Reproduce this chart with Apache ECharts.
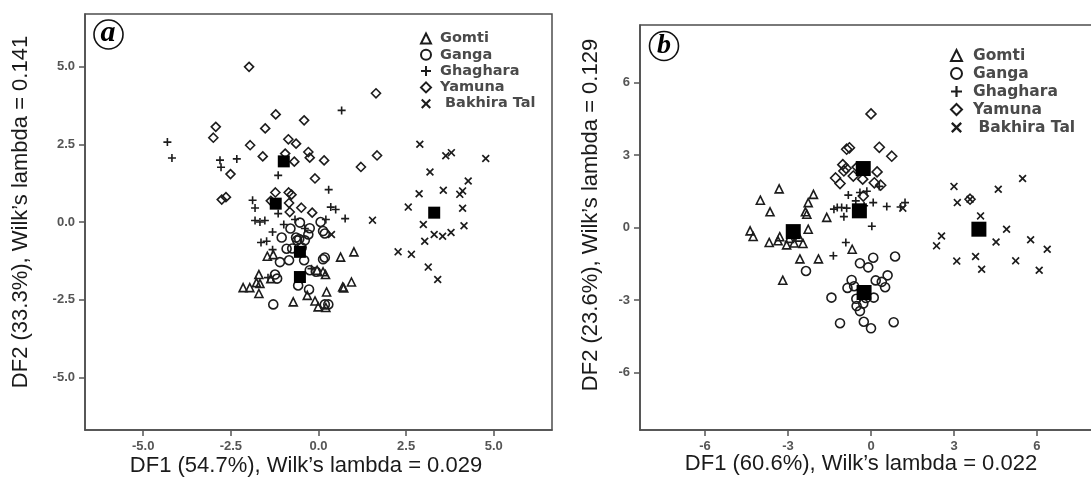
<!DOCTYPE html>
<html>
<head>
<meta charset="utf-8">
<script src="https://cdn.jsdelivr.net/npm/echarts@6/dist/echarts.min.js"></script>
<style>
html,body{margin:0;padding:0;background:#fff;}
#chart{width:1091px;height:479px;}
</style>
</head>
<body>
<div id="chart"></div>
<script>
// ---------- Panel (a) data ----------
const leftGomti = [[-1.46,-1.1],[-1.29,-1.05],[0.63,-1.13],[1.01,-0.96],[-1.7,-1.69],[-1.67,-1.98],[-1.77,-1.95],[-2.15,-2.11],[-1.96,-2.11],[-1.7,-2.3],[-1.36,-1.82],[-0.04,-1.55],[0.13,-1.6],[0.2,-1.69],[0.69,-2.09],[0.72,-2.12],[0.94,-1.93],[-0.72,-2.57],[-0.32,-2.36],[0.23,-2.25],[-0.1,-2.54],[-0.01,-2.73],[0.21,-2.75]];
const leftGanga = [[-0.53,-0.02],[-0.25,-0.2],[-0.29,-0.4],[0.06,0.0],[0.13,-0.29],[0.18,-0.37],[-1.05,-0.5],[-0.8,-0.21],[-0.61,-0.59],[-0.64,-0.5],[-0.39,-0.59],[-0.91,-0.86],[-0.48,-0.82],[-1.1,-1.29],[-0.84,-1.23],[-0.41,-1.23],[0.13,-1.2],[0.18,-1.14],[-0.25,-1.55],[-0.07,-1.6],[-1.24,-1.69],[-1.18,-1.82],[-0.58,-2.04],[-0.27,-2.17],[-1.29,-2.65],[0.18,-2.65],[0.28,-2.65],[-0.55,-0.55],[-0.75,-0.85]];
const leftGhaghara = [[-4.31,2.57],[-4.18,2.06],[-2.81,1.99],[-2.78,1.76],[-2.33,2.03],[0.66,3.59],[-1.15,1.5],[0.29,1.04],[-1.88,0.7],[-1.81,0.45],[-1.15,0.27],[-1.81,0.05],[-1.67,0.0],[-1.53,0.05],[-1.31,-0.32],[-0.99,-0.08],[-0.67,0.08],[-0.39,-0.21],[0.35,0.48],[0.49,0.40],[0.76,0.11],[0.21,0.08],[-1.64,-0.66],[-1.48,-0.62],[-1.31,-0.89],[-1.44,-1.79],[-0.2,-1.5]];
const leftYamuna = [[-1.98,4.99],[1.64,4.14],[-1.22,3.46],[-0.41,3.27],[-2.93,3.06],[-1.52,3.01],[-3.0,2.71],[-1.95,2.47],[-0.86,2.66],[-0.64,2.52],[-0.29,2.25],[-1.59,2.11],[-0.25,2.07],[0.16,1.98],[1.67,2.14],[1.21,1.77],[-0.95,2.2],[-0.69,1.94],[-2.51,1.54],[-0.1,1.4],[-2.76,0.72],[-2.64,0.8],[-1.23,0.95],[-0.85,0.95],[-0.77,0.88],[-0.84,0.61],[-0.49,0.46],[-1.36,0.68],[-0.82,0.32],[-0.18,0.30]];
const leftBakhira = [[2.89,2.5],[3.63,2.13],[3.79,2.23],[4.77,2.04],[3.18,1.61],[4.27,1.32],[2.87,0.91],[3.56,1.02],[4.03,0.89],[4.11,1.0],[2.56,0.48],[4.11,0.44],[2.99,-0.08],[4.15,-0.12],[3.3,-0.4],[3.54,-0.46],[3.78,-0.34],[3.03,-0.62],[2.27,-0.96],[2.65,-1.04],[3.13,-1.45],[3.4,-1.85],[1.54,0.06],[0.37,-0.4]];
const leftCentroids = [[-0.99,1.95],[-1.22,0.59],[-0.53,-0.96],[-0.53,-1.77],[3.3,0.3]];
const leftTicks = [-5, -2.5, 0, 2.5, 5];

// ---------- Panel (b) data ----------
const rightGomti = [[-3.32,1.6],[-4.0,1.13],[-3.65,0.65],[-2.08,1.37],[-2.27,1.03],[-2.37,0.65],[-2.32,0.55],[-1.6,0.42],[-4.37,-0.14],[-4.26,-0.37],[-3.3,-0.38],[-2.27,-0.07],[-3.68,-0.62],[-3.36,-0.55],[-3.05,-0.72],[-2.78,-0.64],[-2.46,-0.66],[-2.57,-1.3],[-1.9,-1.3],[-0.68,-0.9],[-3.19,-2.18],[-2.95,-0.45],[-2.6,-0.4]];
const rightGanga = [[-2.35,-1.8],[0.87,-1.2],[0.08,-1.25],[-0.4,-1.48],[-0.1,-1.65],[-0.7,-2.17],[-0.61,-2.43],[0.17,-2.19],[0.39,-2.25],[0.51,-2.47],[0.6,-1.98],[-1.43,-2.9],[-0.53,-2.95],[-0.18,-2.92],[-0.52,-3.25],[-0.4,-3.46],[-0.28,-3.15],[-1.12,-3.96],[-0.26,-3.9],[0.0,-4.17],[0.82,-3.92],[-0.85,-2.5],[0.1,-2.9]];
const rightGhaghara = [[-0.82,1.34],[-0.4,1.45],[-0.15,1.5],[0.08,1.03],[0.57,0.87],[1.07,0.85],[1.23,1.03],[-1.22,0.83],[-1.06,0.83],[-0.88,0.8],[-1.34,0.76],[-0.98,0.45],[0.03,0.05],[-0.91,-0.62],[-1.36,-1.17],[0.3,1.7],[-0.55,1.1],[-0.25,0.9]];
const rightYamuna = [[0,4.7],[0.3,3.32],[0.75,2.95],[-0.88,3.24],[-0.78,3.3],[-1.02,2.6],[-0.9,2.45],[-1.28,2.05],[-1.12,1.82],[-0.98,2.34],[0.22,2.3],[0.12,1.85],[-0.3,2.0],[-0.64,2.13],[-0.28,1.3],[3.58,1.17],[-0.5,2.5],[0.35,1.75]];
const rightBakhira = [[3.0,1.7],[4.6,1.58],[5.48,2.03],[3.12,1.03],[3.58,1.17],[3.96,0.48],[4.9,-0.07],[2.55,-0.35],[2.37,-0.76],[4.52,-0.6],[5.77,-0.51],[6.37,-0.9],[3.78,-1.2],[3.1,-1.39],[4.0,-1.73],[5.23,-1.38],[6.08,-1.77],[1.15,0.8]];
const rightCentroids = [[-0.28,2.44],[-0.42,0.69],[-2.81,-0.17],[-0.25,-2.69],[3.9,-0.07]];
const rightTicks = [-6, -3, 0, 3, 6];

const groupNames = ['Gomti', 'Ganga', 'Ghaghara', 'Yamuna', 'Bakhira Tal'];

// ---------- styling helpers ----------
const INK = '#1c1c1c';
const PLUS = 'path://M4,0H6V4H10V6H6V10H4V6H0V4H4Z';
const CROSS = 'path://M0,1.5L1.5,0L5,3.5L8.5,0L10,1.5L6.5,5L10,8.5L8.5,10L5,6.5L1.5,10L0,8.5L3.5,5Z';
const hollow = {color: 'rgba(0,0,0,0)', borderColor: INK, borderWidth: 1.6, opacity: 1};
const solid = {color: INK, borderWidth: 0, opacity: 1};

function valAxis(gridIndex, min, max, ticks, decimals) {
  return {
    type: 'value', gridIndex: gridIndex, min: min, max: max,
    splitLine: {show: false},
    axisLine: {show: true, onZero: false, lineStyle: {color: '#4d4d4d', width: 1.5}},
    axisTick: {show: true, length: 6, customValues: ticks, lineStyle: {color: '#555', width: 1.5}},
    axisLabel: {customValues: ticks, formatter: function (v) { return v.toFixed(decimals); },
      margin: 10, color: '#555', fontWeight: 'bold', fontSize: 13, fontFamily: 'Liberation Sans'}
  };
}

function groupSeries(idx, sets, sizes, centroids, cSize) {
  const syms = ['triangle', 'circle', PLUS, 'diamond', CROSS];
  const styles = [hollow, hollow, solid, hollow, solid];
  const out = sets.map(function (d, i) {
    return {
      type: 'scatter', name: groupNames[i], xAxisIndex: idx, yAxisIndex: idx,
      data: d, symbol: syms[i], symbolSize: sizes[i], itemStyle: styles[i],
      emphasis: {disabled: true}, z: 2
    };
  });
  out.push({
    type: 'scatter', name: 'Group centroid', xAxisIndex: idx, yAxisIndex: idx,
    data: centroids, symbol: 'rect', symbolSize: cSize,
    itemStyle: {color: '#000', opacity: 1}, emphasis: {disabled: true}, z: 5
  });
  return out;
}

const chart = echarts.init(document.getElementById('chart'), null, {renderer: 'canvas'});

const titleFont = {fontSize: 22, fontFamily: 'Liberation Sans', fill: '#1a1a1a'};

chart.setOption({
  animation: false,
  backgroundColor: '#fff',
  grid: [
    {left: 85, top: 14, width: 467, height: 416, show: true, borderColor: '#4d4d4d', borderWidth: 1.5, outerBoundsMode: 'none', containLabel: false},
    {left: 640, top: 25, width: 462, height: 405, show: true, borderColor: '#4d4d4d', borderWidth: 1.5, outerBoundsMode: 'none', containLabel: false}
  ],
  xAxis: [valAxis(0, -6.66, 6.66, leftTicks, 1), valAxis(1, -8.35, 8.35, rightTicks, 0)],
  yAxis: [valAxis(0, -6.69, 6.69, leftTicks, 1), valAxis(1, -8.38, 8.38, rightTicks, 0)],
  legend: [
    {orient: 'vertical', left: 415, top: 26, itemWidth: 10, itemHeight: 10, itemGap: 1.3,
     data: groupNames, selectedMode: false,
     formatter: function (n) { return n === 'Bakhira Tal' ? ' ' + n : n; },
     textStyle: {fontFamily: 'DejaVu Sans', fontWeight: 'bold', fontSize: 14.5, lineHeight: 14, color: '#4a4a4a', padding: [0, 0, 0, 4]}},
    {orient: 'vertical', left: 945, top: 42.5, itemWidth: 11, itemHeight: 11, itemGap: 2.0,
     data: groupNames, selectedMode: false,
     formatter: function (n) { return n === 'Bakhira Tal' ? ' ' + n : n; },
     textStyle: {fontFamily: 'DejaVu Sans', fontWeight: 'bold', fontSize: 15.5, lineHeight: 15, color: '#4a4a4a', padding: [0, 0, 0, 6]}}
  ],
  series: [].concat(
    groupSeries(0, [leftGomti, leftGanga, leftGhaghara, leftYamuna, leftBakhira], [8, 9, 8, 9, 8], leftCentroids, 12),
    groupSeries(1, [rightGomti, rightGanga, rightGhaghara, rightYamuna, rightBakhira], [8, 9, 8, 10, 8], rightCentroids, 15)
  ),
  graphic: [
    {type: 'text', x: 306, y: 466, style: Object.assign({text: 'DF1 (54.7%), Wilk\u2019s lambda = 0.029', align: 'center', verticalAlign: 'middle'}, titleFont)},
    {type: 'text', x: 861, y: 464, style: Object.assign({text: 'DF1 (60.6%), Wilk\u2019s lambda = 0.022', align: 'center', verticalAlign: 'middle'}, titleFont)},
    {type: 'text', x: 21, y: 212, rotation: Math.PI / 2, style: Object.assign({text: 'DF2 (33.3%), Wilk\u2019s lambda = 0.141', align: 'center', verticalAlign: 'middle'}, titleFont)},
    {type: 'text', x: 591, y: 215, rotation: Math.PI / 2, style: Object.assign({text: 'DF2 (23.6%), Wilk\u2019s lambda = 0.129', align: 'center', verticalAlign: 'middle'}, titleFont)},
    {type: 'circle', shape: {cx: 108.5, cy: 34.5, r: 14.5}, style: {fill: '#fff', stroke: '#111', lineWidth: 1.6}, z: 10},
    {type: 'text', x: 108, y: 33, z: 11, style: {text: 'a', align: 'center', verticalAlign: 'middle', fontSize: 30, fontFamily: 'Liberation Serif', fontStyle: 'italic', fontWeight: 'bold', fill: '#000'}},
    {type: 'circle', shape: {cx: 664, cy: 46, r: 14.5}, style: {fill: '#fff', stroke: '#111', lineWidth: 1.6}, z: 10},
    {type: 'text', x: 664, y: 46, z: 11, style: {text: 'b', align: 'center', verticalAlign: 'middle', fontSize: 28, fontFamily: 'Liberation Serif', fontStyle: 'italic', fontWeight: 'bold', fill: '#000'}}
  ]
});
</script>
</body>
</html>
